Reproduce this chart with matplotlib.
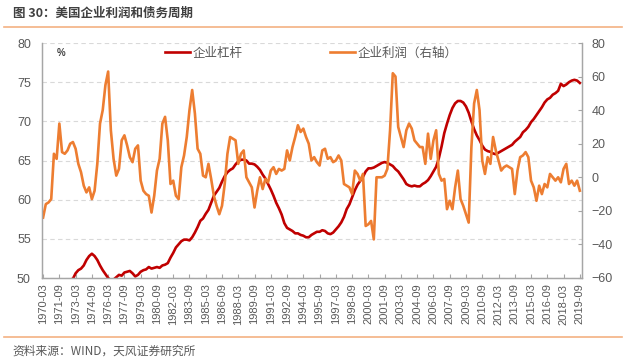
import matplotlib
matplotlib.use("Agg")
import matplotlib.pyplot as plt
import numpy as np

plt.rcParams['font.family'] = ['Liberation Sans', 'Noto Sans CJK SC', 'DejaVu Sans']

# quarterly data, 1970-03 .. 2019-09
leverage = [
    48.0, 48.3, 48.5, 48.6, 48.8, 49.0, 49.1, 49.3,   # 1970-71
    49.5, 49.6, 49.8, 49.9, 50.6, 51.0, 51.2, 51.6,   # 1972-73
    52.3, 52.8, 53.1, 52.8, 52.3, 51.6, 51.0, 50.5,   # 1974-75
    50.0, 49.7, 49.8, 50.1, 50.4, 50.3, 50.7, 50.8,   # 1976-77
    50.9, 50.6, 50.2, 50.4, 50.8, 51.0, 51.1, 51.4,   # 1978-79
    51.2, 51.3, 51.4, 51.3, 51.6, 51.7, 51.9, 52.6,   # 1980-81
    53.2, 53.9, 54.3, 54.7, 54.9, 54.9, 54.8, 55.2,   # 1982-83
    55.8, 56.5, 57.3, 57.6, 58.2, 58.7, 59.6, 60.5,   # 1984-85
    61.0, 61.5, 62.3, 63.0, 63.5, 63.8, 64.0, 64.5,   # 1986-87
    64.9, 65.1, 65.1, 65.0, 64.6, 64.6, 64.5, 64.2,   # 1988-89
    63.8, 63.2, 62.7, 62.0, 61.3, 60.5, 59.6, 58.9,   # 1990-91
    58.1, 57.0, 56.4, 56.2, 56.0, 55.7, 55.7, 55.5,   # 1992-93
    55.4, 55.2, 55.2, 55.5, 55.7, 55.9, 55.9, 56.1,   # 1994-95
    56.0, 55.7, 55.6, 55.8, 56.2, 56.6, 57.1, 57.8,   # 1996-97
    58.8, 59.4, 60.3, 61.2, 61.9, 62.4, 62.9, 63.6,   # 1998-99
    64.0, 64.0, 64.1, 64.3, 64.5, 64.7, 64.8, 64.7,   # 2000-01
    64.5, 64.3, 63.9, 63.6, 63.1, 62.6, 62.0, 61.8,   # 2002-03
    61.7, 61.8, 61.7, 61.7, 62.0, 62.2, 62.5, 63.0,   # 2004-05
    63.6, 64.2, 65.3, 66.8, 68.5, 69.7, 70.8, 71.7,   # 2006-07
    72.3, 72.6, 72.6, 72.4, 71.9, 71.1, 70.0, 69.0,   # 2008-09
    68.2, 67.6, 66.9, 66.4, 66.2, 66.1, 65.9, 65.8,   # 2010-11
    66.0, 66.2, 66.4, 66.6, 66.8, 67.0, 67.4, 67.7,   # 2012-13
    68.0, 68.6, 68.9, 69.3, 69.9, 70.3, 70.8, 71.3,   # 2014-15
    71.8, 72.4, 72.8, 73.0, 73.4, 73.6, 73.9, 74.8,   # 2016-17
    74.5, 74.7, 75.0, 75.2, 75.3, 75.2, 74.9,         # 2018-19
]
profits = [
    -24, -16, -15, -13, 14, 11, 32, 15,
    14, 16, 20, 21, 17, 8, 3, -5,
    -9, -6, -13, -8, 8, 32, 40, 55,
    63, 28, 11, 1, 5, 22, 25, 19,
    12, 9, 17, 19, -2, -8, -10, -11,
    -21, -11, 4, 11, 32, 36, 22, -4,
    -2, -11, -13, 6, 13, 24, 40, 52,
    38, 17, 14, 1, 0, 8, -1, -11,
    -17, -22, -17, -4, 14, 24, 23, 22,
    8, 14, 16, 0, -3, -6, -18, -8,
    0, -7, -1, -3, 4, 6, 2, 5,
    4, 5, 16, 10, 18, 24, 31, 27,
    29, 24, 20, 10, 12, 9, 7, 16,
    17, 11, 12, 9, 10, 13, 10, -4,
    -5, -6, -10, 4, 2, -2, 2, -29,
    -28, -26, -37, 0, 0, 0, 1, 5,
    28, 62, 60, 30, 24, 18, 28, 32,
    29, 22, 20, 18, 18, 8, 26, 11,
    22, 28, 2, -2, -1, -19, -14, -19,
    -6, 4, -13, -17, -22, -27, 18, 44,
    52, 40, 10, 2, 12, 8, 24, 16,
    10, 4, 6, 7, 6, 5, -10, 4,
    12, 13, 15, 12, -2, -6, -14, -5,
    -10, -4, -6, 2, 0, -2, 0, -3,
    5, 8, -4, -2, -5, -2, -8,
]
quarters = [f"{1970 + k // 4}-{(k % 4) * 3 + 3:02d}" for k in range(len(leverage))]
tick_idx = list(range(0, len(quarters), 6))

red = '#C00000'
orange = '#ED7D31'
gray = '#595959'

fig = plt.figure(figsize=(6.26, 3.6), dpi=100)
ax = fig.add_axes([42/626, 1 - 278/360, 540/626, 235/360])
ax2 = ax.twinx()

x = np.arange(len(leverage))
l1, = ax.plot(x, leverage, color=red, lw=1.9)
l2, = ax2.plot(x, profits, color=orange, lw=1.9)

ax.set_xlim(-0.4, 198.8)
ax.set_ylim(50, 80)
ax.set_yticks(range(50, 81, 5))
ax2.set_ylim(-60, 80)
ax2.set_yticks(range(-60, 81, 20))

ax.set_xticks(tick_idx)
ax.set_xticklabels([quarters[k] for k in tick_idx], rotation=90, fontsize=8, color=gray)
ax.tick_params(axis='x', direction='in', length=3, color='#A6A6A6', pad=4)
ax.tick_params(axis='y', length=0, labelsize=9, labelcolor=gray, pad=8)
ax2.tick_params(axis='y', direction='in', length=3, color='#A6A6A6', labelsize=9,
                labelcolor=gray, pad=7)

for a in (ax, ax2):
    a.spines['top'].set_visible(False)
    for s in ('left', 'right', 'bottom'):
        a.spines[s].set_color('#A6A6A6')
        a.spines[s].set_linewidth(0.9)

ax.grid(axis='y', linestyle=(0, (4, 3)), color='#D9D9D9', linewidth=0.8)
ax.set_axisbelow(True)

fig.text(57/626, 1 - 53/360, '%', fontsize=7, fontweight='bold', color='#404040',
         va='center', ha='left')

fig.legend([l1, l2], ['企业杠杆', '企业利润（右轴）'], loc='center left',
           bbox_to_anchor=(165/626, 1 - 53/360), ncol=2, frameon=False,
           borderpad=0, borderaxespad=0, handlelength=2.0, handletextpad=0.2,
           columnspacing=7.0, prop={'family': ['Noto Sans CJK SC'], 'size': 9},
           labelcolor=gray)

fig.text(13/626, 1 - 13/360, '图 30：美国企业利润和债务周期', fontsize=9, fontweight='bold',
         color='#404040', va='center', ha='left', family=['Noto Sans CJK SC', 'DejaVu Sans'])
fig.add_artist(plt.Line2D([4/626, 622/626], [1 - 27/360, 1 - 27/360], color='#F4B183', lw=1.2))
fig.add_artist(plt.Line2D([4/626, 622/626], [1 - 337/360, 1 - 337/360], color='#F4B183', lw=1.2))
fig.text(12/626, 1 - 351/360, '资料来源：WIND，天风证券研究所', fontsize=8.5, color=gray,
         va='center', ha='left', family=['Noto Sans CJK SC', 'DejaVu Sans'])

fig.savefig('out.png', dpi=100)
